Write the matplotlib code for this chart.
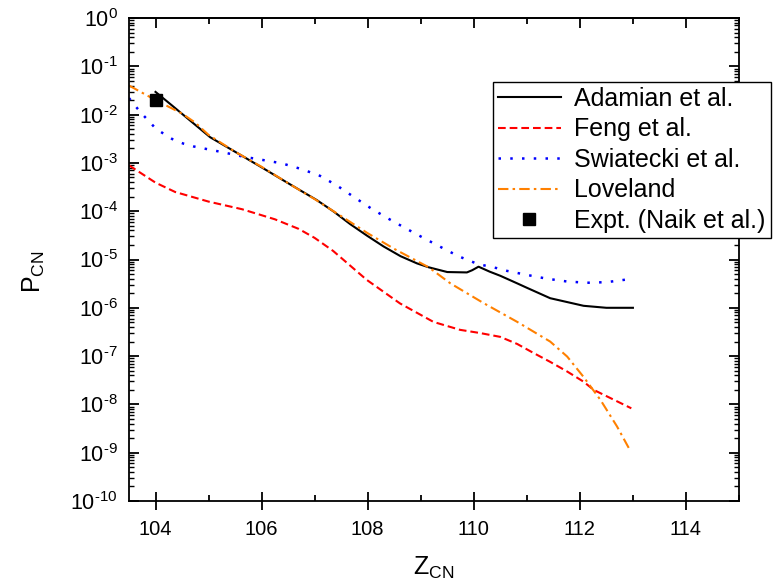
import numpy as np
import matplotlib
matplotlib.use("Agg")
import matplotlib.pyplot as plt
from matplotlib.ticker import FixedLocator, FuncFormatter, MultipleLocator, NullFormatter

plt.rcParams['font.family'] = ['Liberation Sans', 'DejaVu Sans']
plt.rcParams['mathtext.fontset'] = 'custom'
plt.rcParams['mathtext.rm'] = 'Liberation Sans'
plt.rcParams['mathtext.it'] = 'Liberation Sans:italic'
plt.rcParams['mathtext.bf'] = 'Liberation Sans:bold'

# ---------------- data ----------------
z_adamian = [104.0, 104.3, 104.68, 105.03, 105.5, 106.0, 106.5, 107.04, 107.36, 107.67,
             107.99, 108.30, 108.62, 108.93, 109.15, 109.50, 109.87, 109.97, 110.09,
             110.30, 110.50, 110.82, 111.0, 111.44, 112.07, 112.5, 113.0]
p_adamian = [2.95e-2, 1.58e-2, 7.1e-3, 3.4e-3, 1.7e-3, 8.1e-4, 3.8e-4, 1.7e-4, 9.8e-5, 5.4e-5,
             3.1e-5, 1.86e-5, 1.17e-5, 8.3e-6, 6.9e-6, 5.5e-6, 5.4e-6, 6.0e-6, 7.1e-6,
             5.6e-6, 4.6e-6, 3.2e-6, 2.6e-6, 1.58e-6, 1.1e-6, 1.0e-6, 1.0e-6]

z_feng = [103.5, 104.0, 104.37, 105.0, 105.63, 106.25, 106.7, 107.0, 107.35, 107.98,
          108.61, 109.24, 109.74, 110.12, 110.5, 110.82, 111.12, 111.44, 111.76, 112.07,
          112.26, 112.97]
p_feng = [8.9e-4, 3.9e-4, 2.5e-4, 1.58e-4, 1.1e-4, 6.8e-5, 4.3e-5, 2.8e-5, 1.5e-5, 3.8e-6,
          1.23e-6, 5.1e-7, 3.5e-7, 3.0e-7, 2.5e-7, 1.78e-7, 1.17e-7, 7.6e-8, 4.8e-8, 2.95e-8,
          2.0e-8, 8.3e-9]

z_swiatecki = [103.5, 103.62, 103.74, 103.88, 104.0, 104.17, 104.34, 104.53, 104.71, 104.9,
               105.27, 105.65, 106.02, 106.38, 106.76, 107.1, 107.42, 107.73, 108.06, 108.38,
               108.72, 109.05, 109.39, 109.71, 110.07, 110.44, 110.63, 111.0, 111.38, 111.76,
               112.14, 112.51, 112.92]
p_swiatecki = [2.2e-2, 1.5e-2, 1.05e-2, 7.2e-3, 5.2e-3, 3.9e-3, 3.0e-3, 2.5e-3, 2.2e-3, 2.0e-3,
               1.66e-3, 1.35e-3, 1.15e-3, 9.8e-4, 7.4e-4, 5.4e-4, 3.4e-4, 2.0e-4, 1.15e-4, 7.1e-5,
               4.4e-5, 2.8e-5, 1.78e-5, 1.17e-5, 8.1e-6, 6.6e-6, 5.8e-6, 4.8e-6, 4.0e-6, 3.5e-6,
               3.3e-6, 3.4e-6, 3.9e-6]

z_loveland = [103.5, 104.0, 104.5, 104.75, 105.0, 105.5, 106.0, 106.5, 107.0, 107.5, 108.0,
              108.5, 109.15, 109.56, 110.18, 110.82, 111.44, 111.76, 112.07, 112.39, 112.7, 112.95]
p_loveland = [4.0e-2, 2.0e-2, 1.05e-2, 6.8e-3, 3.8e-3, 1.7e-3, 8.3e-4, 3.8e-4, 1.78e-4, 7.9e-5, 3.5e-5,
              1.66e-5, 6.9e-6, 3.2e-6, 1.26e-6, 5.1e-7, 2.0e-7, 9.8e-8, 3.7e-8, 1.23e-8, 3.5e-9, 1.1e-9]

z_expt = [104.0]
p_expt = [2.0e-2]

labels = ["Adamian et al.", "Feng et al.", "Swiatecki et al.", "Loveland", "Expt. (Naik et al.)"]
x_major = [104, 106, 108, 110, 112, 114]
y_exponents = list(range(-10, 1))

# ---------------- figure ----------------
fig = plt.figure(figsize=(7.74, 5.85), dpi=100)
ax = fig.add_axes([129/774, 1-501/585, (739-129)/774, (501-18)/585])

l1, = ax.plot(z_adamian, p_adamian, color='black', lw=1.5, ls='-', label=labels[0])
l2, = ax.plot(z_feng, p_feng, color='#FF0000', lw=1.5, ls=(0, (3.7, 1.9)), label=labels[1])
l3, = ax.plot(z_swiatecki, p_swiatecki, color='#0000FF', lw=1.8, ls=(0, (1.0, 3.7)), label=labels[2])
l4, = ax.plot(z_loveland, p_loveland, color='#FF8000', lw=1.5, ls=(0, (5, 2, 1.2, 2)), label=labels[3])
l5, = ax.plot(z_expt, p_expt, color='black', marker='s', ms=8, ls='none', label=labels[4])

ax.set_yscale('log')
ax.set_xlim(103.5, 115)
ax.set_ylim(1e-10, 1)

ax.xaxis.set_major_locator(FixedLocator(x_major))
ax.xaxis.set_minor_locator(MultipleLocator(1))
ax.yaxis.set_major_locator(FixedLocator([10.0**e for e in y_exponents]))
minors = [m * 10.0**e for e in y_exponents[:-1] for m in range(2, 10)]
ax.yaxis.set_minor_locator(FixedLocator(minors))
ax.yaxis.set_minor_formatter(NullFormatter())

def yfmt(v, pos):
    e = int(round(np.log10(v)))
    if e < 0:
        return r'$\mathregular{10^{\text{-}%d}}$' % (-e)
    return r'$\mathregular{10^{%d}}$' % e

ax.yaxis.set_major_formatter(FuncFormatter(yfmt))

for s in ax.spines.values():
    s.set_linewidth(1.3)

ax.tick_params(axis='x', which='major', direction='inout', length=13, width=1.3,
               labelsize=14.5, pad=7, top=False)
ax.tick_params(axis='x', which='minor', direction='in', length=4, width=1.3, top=False)
ax.tick_params(axis='y', which='major', direction='in', length=7, width=1.3,
               labelsize=15.5, pad=8, right=True)
ax.tick_params(axis='y', which='minor', direction='in', length=3.5, width=1.0, right=True)

sec = ax.secondary_xaxis('top')
sec.xaxis.set_major_locator(FixedLocator(x_major))
sec.xaxis.set_minor_locator(MultipleLocator(1))
sec.tick_params(axis='x', which='major', direction='in', length=7, width=1.3, labeltop=False)
sec.tick_params(axis='x', which='minor', direction='in', length=4, width=1.3)
sec.spines['top'].set_linewidth(1.3)

ax.set_xlabel(r'Z$_{\mathregular{CN}}$', fontsize=18)
ax.set_ylabel(r'P$_{\mathregular{CN}}$', fontsize=18)
ax.xaxis.set_label_coords(0.5, -0.112)
ax.yaxis.set_label_coords(-0.135, 0.475)

leg = ax.legend(handles=[l1, l2, l3, l4, l5], loc='upper left',
                bbox_to_anchor=(493/774, 1-82/585), bbox_transform=fig.transFigure,
                borderaxespad=0, fontsize=18, frameon=True, fancybox=False,
                framealpha=1, edgecolor='black', labelspacing=0.26,
                handlelength=2.5, handletextpad=0.55, borderpad=0.2)
leg.get_frame().set_linewidth(1.0)

fig.savefig('out.png', dpi=100)
